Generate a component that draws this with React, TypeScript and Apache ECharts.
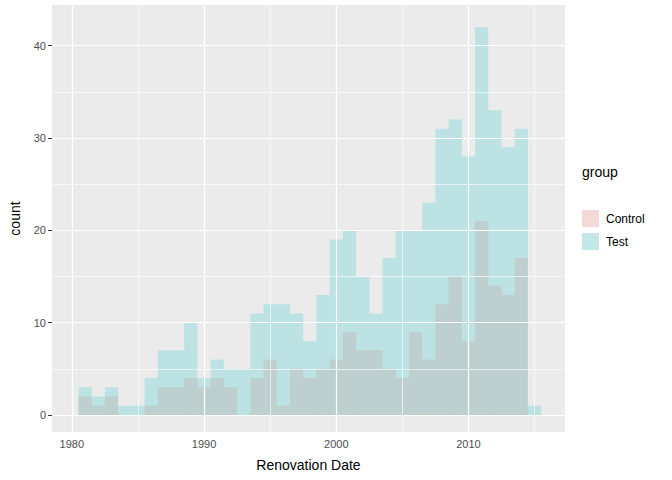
import { useEffect, useRef } from "react";
import * as echarts from "echarts";

const years = [1981, 1982, 1983, 1984, 1985, 1986, 1987, 1988, 1989, 1990, 1991, 1992, 1993, 1994, 1995, 1996, 1997, 1998, 1999, 2000, 2001, 2002, 2003, 2004, 2005, 2006, 2007, 2008, 2009, 2010, 2011, 2012, 2013, 2014, 2015];
const testCounts = [3, 2, 3, 1, 1, 4, 7, 7, 10, 4, 6, 5, 5, 11, 12, 12, 11, 8, 13, 19, 20, 15, 11, 17, 20, 20, 23, 31, 32, 28, 42, 33, 29, 31, 1];
const controlCounts = [2, 1, 2, 0, 0, 1, 3, 3, 4, 3, 4, 3, 0, 4, 6, 1, 5, 4, 5, 6, 9, 7, 7, 5, 4, 9, 6, 12, 15, 8, 21, 14, 13, 17, 0];
const xTicks = [1980, 1990, 2000, 2010];
const xMinor = [1985, 1995, 2005, 2015];
const yTicks = [0, 10, 20, 30, 40];
const yMinor = [5, 15, 25, 35];
const binWidth = 1;

const X_MIN = 1978.5, X_MAX = 2017.3, Y_MIN = -1.84, Y_MAX = 44.4;

function histSeries(name: string, counts: number[], color: string) {
  return {
    name,
    type: "custom",
    z: 3,
    data: years.map((y, i) => [y, counts[i]]),
    renderItem: (_p: any, api: any) => {
      const x = api.value(0), c = api.value(1);
      if (!c) return null;
      const a = api.coord([x - binWidth / 2, c]);
      const b = api.coord([x + binWidth / 2, 0]);
      return { type: "rect", shape: { x: a[0], y: a[1], width: b[0] - a[0], height: b[1] - a[1] }, style: { fill: color } };
    },
  };
}

export default function App() {
  const ref = useRef<HTMLDivElement>(null);
  useEffect(() => {
    if (!ref.current) return;
    const chart = echarts.init(ref.current, undefined, { renderer: "svg" });
    const grid = (v: number, w: number, axis: "xAxis" | "yAxis") => ({ [axis]: v, lineStyle: { color: "#fff", width: w, type: "solid" } });
    chart.setOption({
      animation: false,
      textStyle: { fontFamily: "Liberation Sans, Arial, sans-serif" },
      grid: { left: 46, right: 107, top: 5, bottom: 48, show: true, backgroundColor: "#EBEBEB", borderWidth: 0 },
      xAxis: {
        type: "value", min: X_MIN, max: X_MAX,
        name: "Renovation Date", nameLocation: "middle", nameGap: 26,
        nameTextStyle: { color: "#000", fontSize: 14 },
        axisLine: { show: false },
        splitLine: { show: false },
        axisTick: { show: true, length: 4, lineStyle: { color: "#333" }, customValues: xTicks },
        axisLabel: { color: "#4D4D4D", fontSize: 11, margin: 6, customValues: xTicks, formatter: (v: number) => String(v) },
      },
      yAxis: {
        type: "value", min: Y_MIN, max: Y_MAX,
        name: "count", nameLocation: "middle", nameGap: 30,
        nameTextStyle: { color: "#000", fontSize: 14 },
        axisLine: { show: false },
        splitLine: { show: false },
        axisTick: { show: true, length: 4, lineStyle: { color: "#333" }, customValues: yTicks },
        axisLabel: { color: "#4D4D4D", fontSize: 11, margin: 6, customValues: yTicks, formatter: (v: number) => String(v) },
      },
      series: [
        {
          type: "line", data: [], z: 1, silent: true,
          markLine: {
            silent: true, symbol: "none", label: { show: false },
            data: [
              ...xMinor.map((v) => grid(v, 0.6, "xAxis")),
              ...yMinor.map((v) => grid(v, 0.6, "yAxis")),
              ...xTicks.map((v) => grid(v, 1.2, "xAxis")),
              ...yTicks.map((v) => grid(v, 1.2, "yAxis")),
            ],
          },
        },
        histSeries("Control", controlCounts, "rgba(248,118,109,0.2)"),
        histSeries("Test", testCounts, "rgba(0,191,196,0.2)"),
      ],
      graphic: [
        { type: "text", left: 582, top: 165, style: { text: "group", fontSize: 14, fill: "#000", fontFamily: "Liberation Sans, Arial" } },
        { type: "rect", shape: { x: 582, y: 210, width: 17, height: 17 }, style: { fill: "#F2F2F2" } },
        { type: "rect", shape: { x: 582, y: 210, width: 17, height: 17 }, style: { fill: "rgba(248,118,109,0.2)" } },
        { type: "rect", shape: { x: 582, y: 233, width: 17, height: 17 }, style: { fill: "#F2F2F2" } },
        { type: "rect", shape: { x: 582, y: 233, width: 17, height: 17 }, style: { fill: "rgba(0,191,196,0.2)" } },
        { type: "text", left: 606, top: 213, style: { text: "Control", fontSize: 12, fill: "#000", fontFamily: "Liberation Sans, Arial" } },
        { type: "text", left: 606, top: 236, style: { text: "Test", fontSize: 12, fill: "#000", fontFamily: "Liberation Sans, Arial" } },
      ],
    });
    return () => chart.dispose();
  }, []);
  return <div ref={ref} style={{ width: 672, height: 480, position: "absolute", left: 0, top: 0 }} />;
}
